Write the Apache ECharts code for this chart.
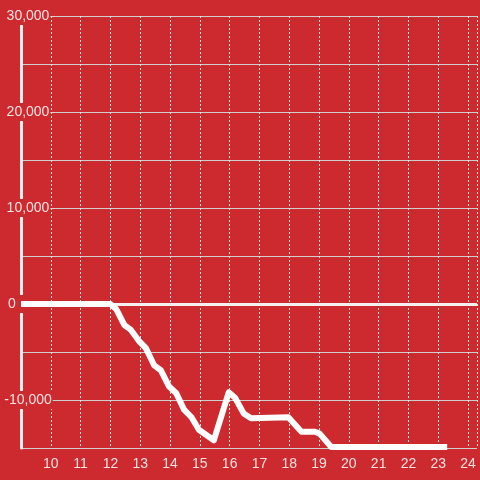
<!DOCTYPE html>
<html>
<head>
<meta charset="utf-8">
<script src="https://cdn.jsdelivr.net/npm/echarts@6/dist/echarts.min.js"></script>
<style>
  html, body { margin: 0; padding: 0; background: #cc2a2f; }
  #char { width: 480px; height: 480px; }
</style>
</head>
<body>
<div id="char"></div>
<script>
// hours of the day and running value
var hours = [9, 12, 12.2, 12.47, 12.69, 12.97, 13.19, 13.47, 13.69, 13.97, 14.21, 14.47, 14.72, 14.97, 15.47,
    15.97, 16.19, 16.47, 16.72, 17.97, 18.41, 18.86, 19.02, 19.41, 23.3];
var values = [0, 0, -550, -2200, -2700, -3900, -4600, -6400, -6900, -8600, -9300, -11000, -11800, -13100, -14200,
    -9200, -9800, -11400, -11900, -11800, -13300, -13300, -13500, -14900, -14900];
var xTicks = [10, 11, 12, 13, 14, 15, 16, 17, 18, 19, 20, 21, 22, 23, 24];

var bg = '#cc2a2f';
var txt = 'rgba(255,255,255,0.86)';

var seriesData = [];
for (var i = 0; i < hours.length; i++) {
    seriesData.push([hours[i], values[i]]);
}

var myChart = echarts.init(document.getElementById('char'));

var option = {
    backgroundColor: bg,
    animation: false,
    grid: { left: 21, right: 0, top: 16, bottom: 32 },
    xAxis: {
        type: 'value',
        min: 9,
        max: 24.3,
        interval: 1,
        axisLine: { show: false },
        axisTick: { show: false },
        axisLabel: {
            color: txt,
            fontSize: 14,
            fontFamily: 'Liberation Sans',
            margin: 9,
            formatter: function (v) {
                return xTicks.indexOf(v) >= 0 ? String(v) : '';
            }
        },
        splitLine: {
            show: true,
            lineStyle: { color: '#f0e6e6', width: 1, type: [2, 2] }
        }
    },
    yAxis: {
        type: 'value',
        min: -15000,
        max: 30000,
        interval: 5000,
        axisLine: { show: true, onZero: false, lineStyle: { color: '#f2eeee', width: 3 } },
        axisTick: { show: false },
        axisLabel: {
            color: txt,
            fontSize: 14,
            fontFamily: 'Liberation Sans',
            align: 'center',
            margin: -7,
            backgroundColor: bg,
            padding: [2, 1],
            formatter: function (v) {
                if (v % 10000 !== 0) return '';
                if (v === 0) return '{z|0}';
                return v.toLocaleString('en-US');
            },
            rich: {
                z: { color: txt, fontSize: 14, fontFamily: 'Liberation Sans', padding: [0, 32, 0, 0] }
            }
        },
        splitLine: {
            show: true,
            lineStyle: { color: '#cfcfcf', width: 1 }
        }
    },
    series: [{
        type: 'line',
        data: seriesData,
        showSymbol: false,
        symbol: 'none',
        lineStyle: { color: '#ffffff', width: 6, join: 'round' },
        markLine: {
            silent: true,
            symbol: 'none',
            label: { show: false },
            lineStyle: { color: '#f5f0f0', width: 3, type: 'solid' },
            data: [{ yAxis: 0 }],
            z: 1
        },
        z: 3
    }]
};
myChart.setOption(option);
</script>
</body>
</html>
